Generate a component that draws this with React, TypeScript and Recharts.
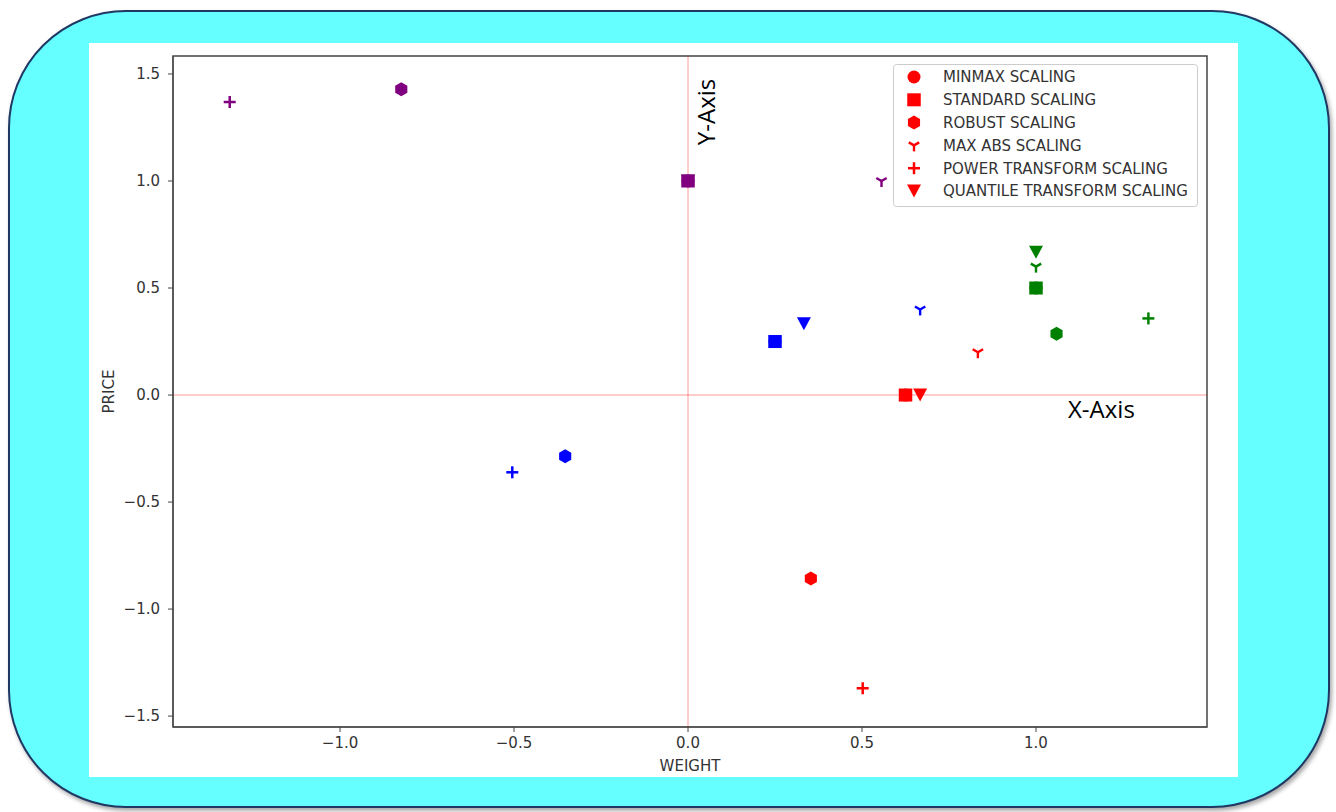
import React from 'react';
import {
  ScatterChart,
  Scatter,
  XAxis,
  YAxis,
  ReferenceLine,
  ReferenceArea,
  Legend,
} from 'recharts';

// ---- data ----
const SAMPLE_NAMES = ['sample 1', 'sample 2', 'sample 3', 'sample 4'];
const SAMPLE_COLORS = ['#ff0000', '#0000ff', '#008000', '#800080'];

const MINMAX_X = [0.625, 0.25, 1.0, 0.0];
const MINMAX_Y = [0.0, 0.25, 0.5, 1.0];
const STANDARD_X = [0.625, 0.25, 1.0, 0.0];
const STANDARD_Y = [0.0, 0.25, 0.5, 1.0];
const ROBUST_X = [0.353, -0.353, 1.059, -0.824];
const ROBUST_Y = [-0.857, -0.286, 0.286, 1.429];
const MAXABS_X = [0.833, 0.667, 1.0, 0.556];
const MAXABS_Y = [0.2, 0.4, 0.6, 1.0];
const POWER_X = [0.502, -0.505, 1.323, -1.317];
const POWER_Y = [-1.37, -0.361, 0.358, 1.369];
const QUANTILE_X = [0.667, 0.333, 1.0, 0.0];
const QUANTILE_Y = [0.0, 0.333, 0.667, 1.0];

const SERIES_NAMES = [
  'MINMAX SCALING',
  'STANDARD SCALING',
  'ROBUST SCALING',
  'MAX ABS SCALING',
  'POWER TRANSFORM SCALING',
  'QUANTILE TRANSFORM SCALING',
];
const SERIES_MARKERS = ['circle', 'square', 'hexagon', 'tri', 'plus', 'triDown'];

const X_TICKS = [-1.0, -0.5, 0.0, 0.5, 1.0];
const Y_TICKS = [-1.5, -1.0, -0.5, 0.0, 0.5, 1.0, 1.5];
const X_DOMAIN = [-1.48, 1.4914];
const Y_DOMAIN = [-1.551, 1.584];

const build = (xs: number[], ys: number[]) =>
  xs.map((x, i) => ({ x, y: ys[i], sample: i, name: SAMPLE_NAMES[i] }));

const SERIES_DATA = [
  build(MINMAX_X, MINMAX_Y),
  build(STANDARD_X, STANDARD_Y),
  build(ROBUST_X, ROBUST_Y),
  build(MAXABS_X, MAXABS_Y),
  build(POWER_X, POWER_Y),
  build(QUANTILE_X, QUANTILE_Y),
];

// ---- marker drawing ----
function Marker({ kind, cx, cy, color }: { kind: string; cx: number; cy: number; color: string }) {
  if (cx == null || cy == null || isNaN(cx) || isNaN(cy)) return null;
  switch (kind) {
    case 'circle':
      return <circle cx={cx} cy={cy} r={6.5} fill={color} />;
    case 'square':
      return <rect x={cx - 6.75} y={cy - 6.5} width={13.5} height={13} fill={color} />;
    case 'hexagon': {
      const r = 7;
      const pts = [0, 1, 2, 3, 4, 5]
        .map((k) => {
          const a = (Math.PI / 3) * k - Math.PI / 2;
          return `${cx + r * Math.cos(a)},${cy + r * Math.sin(a)}`;
        })
        .join(' ');
      return <polygon points={pts} fill={color} />;
    }
    case 'tri': {
      const r = 6;
      return (
        <g stroke={color} strokeWidth={2.4} strokeLinecap="butt">
          <line x1={cx} y1={cy} x2={cx} y2={cy + r} />
          <line x1={cx} y1={cy} x2={cx - 0.866 * r} y2={cy - 0.5 * r} />
          <line x1={cx} y1={cy} x2={cx + 0.866 * r} y2={cy - 0.5 * r} />
        </g>
      );
    }
    case 'plus': {
      const r = 6;
      return (
        <g stroke={color} strokeWidth={2.5}>
          <line x1={cx - r} y1={cy} x2={cx + r} y2={cy} />
          <line x1={cx} y1={cy - r} x2={cx} y2={cy + r} />
        </g>
      );
    }
    case 'triDown':
      return (
        <polygon
          points={`${cx - 7},${cy - 6.5} ${cx + 7},${cy - 6.5} ${cx},${cy + 6.5}`}
          fill={color}
        />
      );
    default:
      return null;
  }
}

const makeShape = (kind: string) => (props: any) => {
  const color = SAMPLE_COLORS[props.payload?.sample ?? 0];
  return <Marker kind={kind} cx={props.cx} cy={props.cy} color={color} />;
};

const fmt = (v: number) => v.toFixed(1).replace('-', '\u2212');

const FONT = '"DejaVu Sans", sans-serif';
const FS = 15;

const LegendBox = () => (
  <svg width={306} height={144} style={{ display: 'block' }}>
    <rect x={0.5} y={0.5} width={304} height={142} rx={3} fill="#ffffff" fillOpacity={0.85} stroke="#cccccc" />
    {SERIES_NAMES.map((name, i) => (
      <g key={name}>
        <Marker kind={SERIES_MARKERS[i]} cx={21} cy={13 + i * 22.8} color="#ff0000" />
        <text x={50} y={13 + i * 22.8} dy="0.36em" fontFamily={FONT} fontSize={FS} fill="#333">
          {name}
        </text>
      </g>
    ))}
  </svg>
);

export default function App() {
  return (
    <div style={{ position: 'absolute', left: 0, top: 0, width: 1336, height: 812 }}>
      <div
        style={{
          position: 'absolute',
          left: 8,
          top: 10,
          width: 1318,
          height: 794,
          background: '#66ffff',
          border: '2px solid #1f3864',
          borderRadius: 118,
          boxShadow: '2px 3px 4px rgba(0,0,0,0.35)',
        }}
      />
      <div
        style={{
          position: 'absolute',
          left: 89,
          top: 43,
          width: 1149,
          height: 734,
          background: '#ffffff',
        }}
      >
        <ScatterChart
          width={1149}
          height={734}
          margin={{ top: 13, right: 31, left: 0, bottom: 0 }}
        >
          <XAxis
            type="number"
            dataKey="x"
            domain={X_DOMAIN}
            ticks={X_TICKS}
            allowDataOverflow
            height={50}
            tickSize={5}
            tickMargin={5}
            tickFormatter={fmt}
            stroke="#444"
            tick={{ fill: '#333', fontSize: FS, fontFamily: FONT }}
            label={{
              content: (p: any) => {
                const vb = p.viewBox || {};
                return (
                  <text
                    x={vb.x + vb.width / 2}
                    y={vb.y + 44}
                    textAnchor="middle"
                    fontFamily={FONT}
                    fontSize={FS}
                    fill="#333"
                  >
                    WEIGHT
                  </text>
                );
              },
            }}
          />
          <YAxis
            type="number"
            dataKey="y"
            domain={Y_DOMAIN}
            ticks={Y_TICKS}
            allowDataOverflow
            width={84}
            tickSize={5}
            tickMargin={8}
            tickFormatter={fmt}
            stroke="#444"
            tick={{ fill: '#333', fontSize: FS, fontFamily: FONT }}
            label={{
              content: (p: any) => {
                const vb = p.viewBox || {};
                const x = vb.x + 25;
                const y = vb.y + vb.height / 2;
                return (
                  <text
                    x={x}
                    y={y}
                    textAnchor="middle"
                    transform={`rotate(-90 ${x} ${y})`}
                    fontFamily={FONT}
                    fontSize={FS}
                    fill="#333"
                  >
                    PRICE
                  </text>
                );
              },
            }}
          />
          <ReferenceLine
            x={0}
            stroke="#ff0000"
            strokeOpacity={0.2}
            strokeWidth={2}
            label={{
              content: (p: any) => {
                const vb = p.viewBox || {};
                const x = vb.x + 27;
                const y = vb.y + 56;
                return (
                  <text
                    x={x}
                    y={y}
                    textAnchor="middle"
                    transform={`rotate(-90 ${x} ${y})`}
                    fontFamily='"Open Sans", sans-serif'
                    fontSize={24}
                    fill="#000"
                  >
                    Y-Axis
                  </text>
                );
              },
            }}
          />
          <ReferenceLine
            y={0}
            stroke="#ff0000"
            strokeOpacity={0.2}
            strokeWidth={2}
            label={{
              content: (p: any) => {
                const vb = p.viewBox || {};
                return (
                  <text
                    x={979}
                    y={vb.y + 23}
                    fontFamily='"Open Sans", sans-serif'
                    fontSize={24}
                    fill="#000"
                  >
                    X-Axis
                  </text>
                );
              },
            }}
          />
          {SERIES_DATA.map((data, i) => (
            <Scatter
              key={SERIES_NAMES[i]}
              name={SERIES_NAMES[i]}
              data={data}
              fill="#ff0000"
              shape={makeShape(SERIES_MARKERS[i])}
              isAnimationActive={false}
            />
          ))}
          <ReferenceArea
            x1={X_DOMAIN[0]}
            x2={X_DOMAIN[1]}
            y1={Y_DOMAIN[0]}
            y2={Y_DOMAIN[1]}
            fill="none"
            fillOpacity={0}
            stroke="#444"
            strokeWidth={1.5}
            ifOverflow="visible"
          />
          <Legend
            layout="vertical"
            align="center"
            verticalAlign="middle"
            content={() => <LegendBox />}
            wrapperStyle={{ position: 'absolute', top: 21, left: 804, width: 306, height: 144 }}
          />
        </ScatterChart>
      </div>
    </div>
  );
}
